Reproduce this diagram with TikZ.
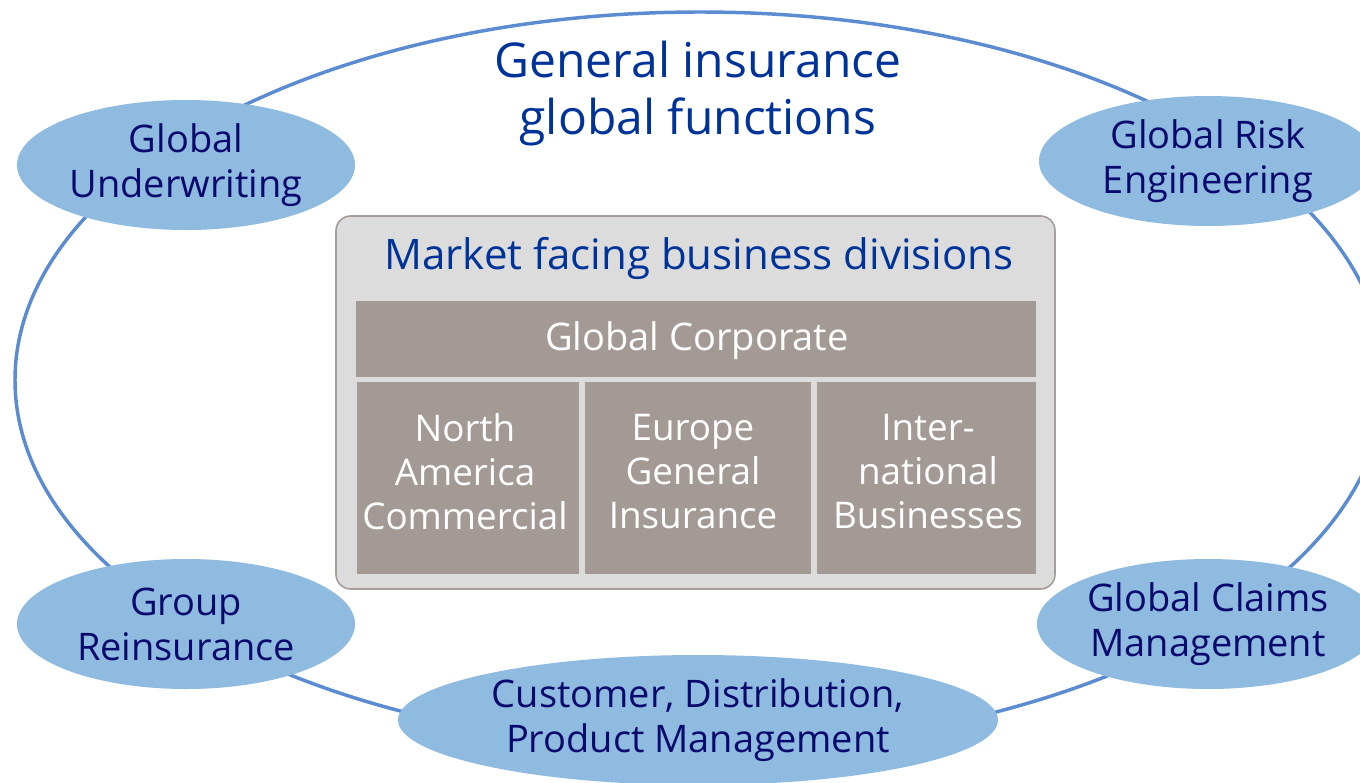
\documentclass[tikz,border=0pt]{standalone}
\usepackage{fontspec}
\setmainfont{Open Sans}
\usetikzlibrary{shapes.geometric}
\definecolor{ringblue}{HTML}{5B8BD0}
\definecolor{ovalfill}{HTML}{8FBBE0}
\definecolor{navy}{HTML}{0A0A6E}
\definecolor{titleblue}{HTML}{003399}
\definecolor{boxgray}{HTML}{DCDCDC}
\definecolor{boxedge}{HTML}{A89D99}
\definecolor{cellbrown}{HTML}{A39A96}
\begin{document}
\begin{tikzpicture}[x=0.75pt,y=-0.75pt,
  oval/.style={ellipse, fill=ovalfill, inner sep=0pt, minimum width=253.5pt, minimum height=97.5pt,
    text=navy, align=center, font=\fontsize{28.5}{33.75}\selectfont},
  cell/.style={rectangle, fill=cellbrown, inner sep=0pt},
  celltext/.style={text=white, align=center, font=\fontsize{27.6}{33}\selectfont, inner sep=0pt},
  ring/.style={draw=ringblue, line width=2.6pt}]
\useasboundingbox (0,0) rectangle (1360,782);
\clip (0,0) rectangle (1360,782);
\fill[white] (0,0) rectangle (1360,782);
% outer ring of global functions
\draw[ring] (700,380) ellipse [x radius=513.75pt, y radius=276pt];
% title
\node[text=titleblue, align=center, inner sep=0pt, font=\fontsize{36}{42.75}\selectfont] (title) at (698,94) {General insurance\\global functions};
% market facing box
\node[rectangle, rounded corners=11pt, fill=boxgray, draw=boxedge, line width=1.2pt,
  minimum width=539.25pt, minimum height=279.75pt, inner sep=0pt] (box) at (695.5,402.5) {};
\node[text=titleblue, inner sep=0pt, font=\fontsize{31.5}{36}\selectfont] (market) at (699,258) {Market facing business divisions};
\node[cell, minimum width=510pt, minimum height=57pt] (corp) at (696,339) {};
\node[text=white, inner sep=0pt, font=\fontsize{28.5}{33}\selectfont] (corptext) at (697,341) {Global Corporate};
\node[cell, minimum width=166.5pt, minimum height=144pt] (na) at (468,478) {};
\node[cell, minimum width=169.5pt, minimum height=144pt] (eu) at (698,478) {};
\node[cell, minimum width=164.25pt, minimum height=144pt] (intl) at (926.5,478) {};
\node[celltext] (natext) at (465,472) {North\\America\\Commercial};
\node[celltext] (eutext) at (693,472) {Europe\\General\\Insurance};
\node[celltext] (intltext) at (928,472) {Inter-\\national\\Businesses};
% function ovals
\node[oval] (gu) at (186,165) {Global\\Underwriting};
\node[oval] (gre) at (1208,161) {Global Risk\\Engineering};
\node[oval] (grp) at (186,624) {Group\\Reinsurance};
\node[oval] (gcm) at (1208,624) {Global Claims\\Management};
\node[oval, minimum width=450pt] (cdp) at (698,720) {Customer, Distribution,\\Product Management};
\end{tikzpicture}
\end{document}
